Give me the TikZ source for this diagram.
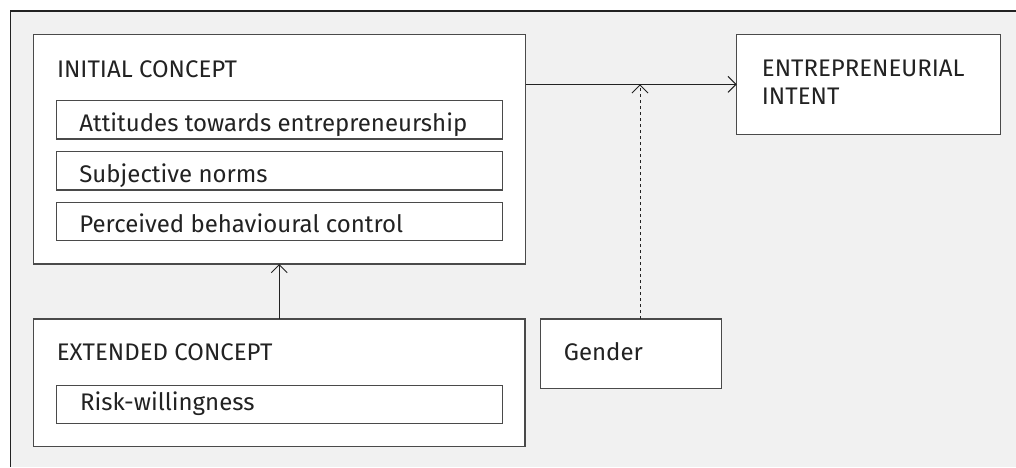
\documentclass[tikz,border=0pt]{standalone}
\usepackage{fontspec}
\setmainfont{Fira Sans}
\usetikzlibrary{arrows.meta}
\definecolor{panel}{HTML}{F1F1F1}
\definecolor{edge}{HTML}{4A4A4A}
\definecolor{ink}{HTML}{222222}
\begin{document}
\begin{tikzpicture}[x=1pt,y=-1pt,
  box/.style={draw=edge,fill=white,line width=1.2pt,inner sep=0pt,outer sep=0pt},
  lbl/.style={anchor=base west,inner sep=0pt,text=ink,font=\fontsize{24}{28}\selectfont},
  conn/.style={draw=ink,line width=1pt,-{Straight Barb[length=8pt,width=16pt,line width=1pt]}}]
% canvas and panel frame
\useasboundingbox (0,0) rectangle (1016,467);
\fill[white] (0,0) rectangle (1016,467);
\fill[panel] (10.5,11) rectangle (1016,467);
\draw[ink,line width=1.1pt] (10.5,467) -- (10.5,11) -- (1016,11);

% initial concept
\node[box,minimum width=492pt,minimum height=229.3pt] (init) at (279.5,149.35) {};
\node[lbl] (initT) at (56.8,77) {INITIAL CONCEPT};
\node[box,minimum width=446pt,minimum height=38.3pt] (att) at (279.8,119.85) {};
\node[lbl] (attT) at (79.2,131) {Attitudes towards entrepreneurship};
\node[box,minimum width=446pt,minimum height=38.3pt] (sub) at (279.8,170.85) {};
\node[lbl] (subT) at (79.2,182) {Subjective norms};
\node[box,minimum width=446pt,minimum height=38.3pt] (pbc) at (279.8,221.5) {};
\node[lbl] (pbcT) at (79.2,232.7) {Perceived behavioural control};

% entrepreneurial intent
\node[box,minimum width=264pt,minimum height=100pt] (ent) at (868.7,84.3) {};
\node[lbl] (entT1) at (761.7,76.5) {ENTREPRENEURIAL};
\node[lbl] (entT2) at (761.7,104.5) {INTENT};

% extended concept
\node[box,minimum width=491.5pt,minimum height=127.7pt] (ext) at (279.25,382.85) {};
\node[lbl] (extT) at (56.7,360.3) {EXTENDED CONCEPT};
\node[box,minimum width=446pt,minimum height=38pt] (risk) at (279.7,404.3) {};
\node[lbl] (riskT) at (80,410.3) {Risk-willingness};

% gender
\node[box,minimum width=181.2pt,minimum height=69.3pt] (gen) at (631.1,353.65) {};
\node[lbl] (genT) at (563.7,360.3) {Gender};

% connectors
\coordinate (mod) at (640,84.3);
\draw[conn] (init.east |- ent.west) -- (ent.west);
\draw[conn] (ext.north) -- (ext.north |- init.south);
\draw[conn,dashed] (gen.north -| mod) -- (mod);
\end{tikzpicture}
\end{document}
